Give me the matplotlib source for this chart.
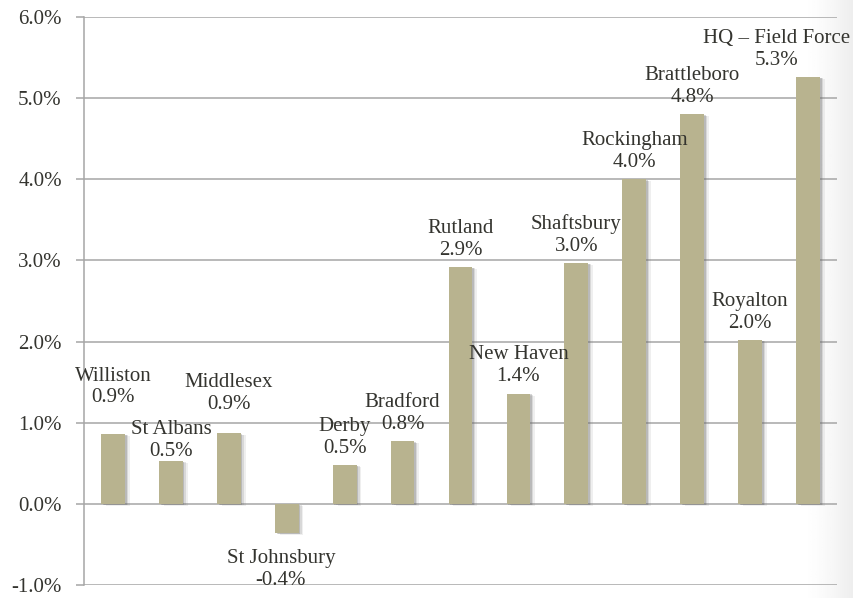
import numpy as np
import matplotlib
matplotlib.use("Agg")
import matplotlib.pyplot as plt
import matplotlib.patheffects as pe
from matplotlib.ticker import FuncFormatter

# Year-over-year change by office
offices = ["Williston", "St Albans", "Middlesex", "St Johnsbury", "Derby",
           "Bradford", "Rutland", "New Haven", "Shaftsbury", "Rockingham",
           "Brattleboro", "Royalton", "HQ \u2013 Field Force"]
change_pct = [0.86, 0.53, 0.87, -0.36, 0.48, 0.77, 2.92, 1.36, 2.97, 4.00,
              4.80, 2.02, 5.26]

# label nudges (x in category units, y in percent)
label_dx = [0, 0, 0, -0.1, 0, 0, 0, 0, 0, 0, 0, 0, -0.55]
label_dy = [0.24, -0.09, 0.15, -0.08, 0, 0, 0, 0, 0, 0, 0, 0, 0]

bar_color = "#b8b38f"
text_color = "#34342f"
font = ["Liberation Serif", "DejaVu Serif"]
fsize = 15

plt.rcParams["font.family"] = font

fig = plt.figure(figsize=(8.54, 5.98), dpi=100)

# faint grey shading down the right-hand edge
bg = fig.add_axes([0, 0, 1, 1], zorder=-10)
grad = np.clip((np.linspace(0, 1, 400) - 0.94) / 0.06, 0, 1) ** 1.5
bg.imshow(np.tile(1 - 0.07 * grad, (10, 1)), cmap="gray", vmin=0, vmax=1,
          aspect="auto", extent=[0, 1, 0, 1])
bg.axis("off")

ax = fig.add_axes([0.0984, 0.0217, 0.8816, 0.9499])
ax.patch.set_alpha(0)

x = np.arange(len(offices))
# soft shadow on the right side of each bar
shadow = [pe.SimplePatchShadow(offset=(3.5, -1.5), shadow_rgbFace="#808080",
                               alpha=0.12),
          pe.SimplePatchShadow(offset=(2.2, -1), shadow_rgbFace="#707070",
                               alpha=0.18),
          pe.SimplePatchShadow(offset=(1.2, -0.5), shadow_rgbFace="#606060",
                               alpha=0.25),
          pe.Normal()]
bars = ax.bar(x, change_pct, width=0.41, color=bar_color, zorder=3)
for b in bars:
    b.set_path_effects(shadow)

for i, v in enumerate(change_pct):
    txt = f"{offices[i]}\n{v:.1f}%"
    if v >= 0:
        ax.text(x[i] + label_dx[i], v + 0.09 + label_dy[i], txt,
                ha="center", va="bottom", fontsize=fsize, color=text_color,
                linespacing=1.2, zorder=5)
    else:
        ax.text(x[i] + label_dx[i], v - 0.12 + label_dy[i], txt,
                ha="center", va="top", fontsize=fsize, color=text_color,
                linespacing=1.2, zorder=5)

ax.set_xlim(-0.5, len(offices) - 0.5)
ax.set_ylim(-1, 6)
ax.set_yticks(np.arange(-1, 7, 1))
ax.yaxis.set_major_formatter(FuncFormatter(lambda v, p: f"{v:.1f}%"))
ax.set_xticks([])
ax.grid(axis="y", color="#a6a6a6", linewidth=1.1, zorder=0)
ax.tick_params(axis="y", length=6, width=1.1, color="#a6a6a6",
               labelsize=fsize, labelcolor=text_color, pad=10)
for s in ["top", "right", "bottom"]:
    ax.spines[s].set_visible(False)
ax.spines["left"].set_color("#a6a6a6")
ax.spines["left"].set_linewidth(1.1)

fig.savefig("out.png", dpi=100)
